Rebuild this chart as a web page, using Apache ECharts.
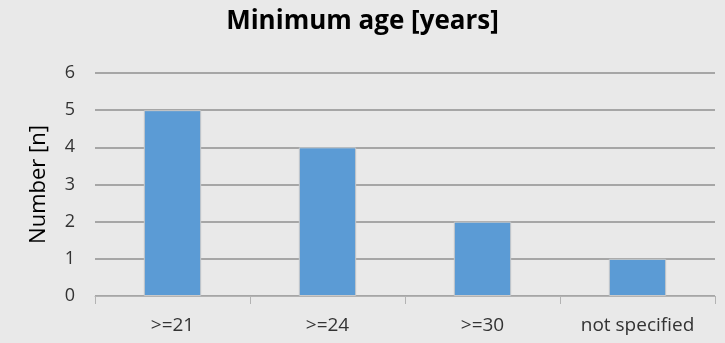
<!DOCTYPE html>
<html lang="en">
<head>
    <meta charset="UTF-8">
    <title>Minimum age</title>
    <script src="https://cdn.jsdelivr.net/npm/echarts@6/dist/echarts.min.js"></script>
    <style>
        body { margin: 0; background: #e9e9e9; }
    </style>
</head>
<body>
<div id="chart" style="width: 725px; height: 343px;"></div>
<script>
    var categories = ['>=21', '>=24', '>=30', 'not specified'];
    var counts = [5, 4, 2, 1];

    var myChart = echarts.init(document.getElementById('chart'));
    myChart.setOption({
        backgroundColor: '#e9e9e9',
        animation: false,
        title: {
            text: 'Minimum age [years]',
            left: 'center',
            top: 4,
            textStyle: {
                fontFamily: 'Open Sans',
                fontSize: 26,
                fontWeight: 'bold',
                color: '#000'
            }
        },
        grid: { left: 95, right: 10, top: 73, bottom: 47 },
        xAxis: {
            type: 'category',
            data: categories,
            axisLine: { lineStyle: { color: '#b3b3b3', width: 1 } },
            axisTick: { show: true, length: 8, lineStyle: { color: '#b3b3b3' } },
            axisLabel: {
                margin: 20,
                fontFamily: 'Open Sans',
                fontSize: 19,
                color: '#333'
            }
        },
        yAxis: {
            type: 'value',
            min: 0,
            max: 6,
            interval: 1,
            name: 'Number [n]',
            nameLocation: 'middle',
            nameGap: 45,
            nameTextStyle: {
                fontFamily: 'Open Sans',
                fontSize: 22,
                color: '#000'
            },
            axisLine: { show: false },
            axisTick: { show: false },
            axisLabel: {
                margin: 20,
                fontFamily: 'Open Sans',
                fontSize: 18,
                color: '#333'
            },
            splitLine: { lineStyle: { color: '#a6a6a6', width: 2 } }
        },
        series: [{
            type: 'bar',
            data: counts,
            barWidth: '37%',
            itemStyle: {
                color: '#5b9bd5',
                borderColor: '#c8c8c8',
                borderWidth: 1
            }
        }]
    });
</script>
</body>
</html>
